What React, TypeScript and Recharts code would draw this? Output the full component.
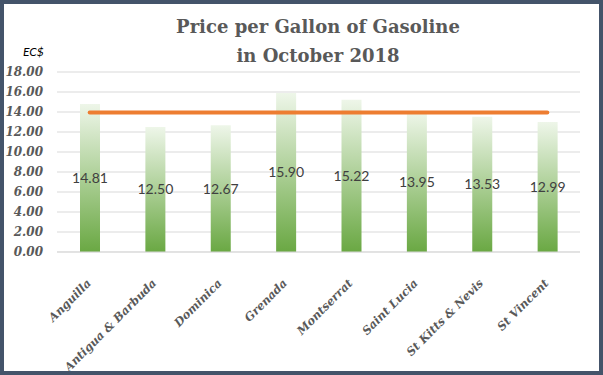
import { Bar, ComposedChart, CartesianGrid, LabelList, Line, XAxis, YAxis } from 'recharts'

const islands = [
  'Anguilla',
  'Antigua & Barbuda',
  'Dominica',
  'Grenada',
  'Montserrat',
  'Saint Lucia',
  'St Kitts & Nevis',
  'St Vincent',
]
const prices = [14.81, 12.5, 12.67, 15.9, 15.22, 13.95, 13.53, 12.99]
const average = [13.95, 13.95, 13.95, 13.95, 13.95, 13.95, 13.95, 13.95]
const yTicks = [0, 2, 4, 6, 8, 10, 12, 14, 16, 18]

const data = islands.map((name, i) => ({ name, price: prices[i], avg: average[i] }))

const serif = '"DejaVu Serif", "Liberation Serif", serif'
const sans = 'Lato, "Open Sans", sans-serif'

function IslandTick(props: { x?: number; y?: number; payload?: { value: string } }) {
  const x = (props.x ?? 0) + 2
  const y = (props.y ?? 0) + 24
  return (
    <text
      x={x}
      y={y}
      transform={`rotate(-45, ${x}, ${y})`}
      textAnchor="end"
      fill="#595959"
      fontFamily={serif}
      fontSize={11.5}
      fontWeight="bold"
      fontStyle="italic"
    >
      {props.payload?.value}
    </text>
  )
}

export default function App() {
  return (
    <div style={{ position: 'absolute', left: 0, top: 0, width: 603, height: 375, background: '#fff' }}>
      <style>{'body{margin:0}'}</style>
      <div
        style={{
          position: 'absolute',
          left: 0,
          top: 12,
          width: 636,
          textAlign: 'center',
          fontFamily: serif,
          fontWeight: 'bold',
          fontSize: 18,
          lineHeight: '29px',
          color: '#595959',
        }}
      >
        Price per Gallon of Gasoline
        <br />
        in October 2018
      </div>
      <div
        style={{
          position: 'absolute',
          left: 23,
          top: 44,
          fontFamily: sans,
          fontStyle: 'italic',
          fontSize: 12,
          color: '#000',
        }}
      >
        EC$
      </div>
      <div style={{ position: 'absolute', left: 0, top: 0 }}>
        <ComposedChart
          width={603}
          height={375}
          data={data}
          margin={{ top: 72, right: 23, left: 0, bottom: 13 }}
        >
          <defs>
            <linearGradient id="barFill" x1="0" y1="0" x2="0" y2="1">
              <stop offset="0%" stopColor="#eef6e9" />
              <stop offset="100%" stopColor="#6aa843" />
            </linearGradient>
          </defs>
          <CartesianGrid vertical={false} stroke="#d9d9d9" />
          <XAxis
            dataKey="name"
            interval={0}
            height={110}
            tickLine={false}
            axisLine={{ stroke: '#d9d9d9' }}
            tick={<IslandTick />}
          />
          <YAxis
            width={57}
            domain={[0, 18]}
            ticks={yTicks}
            interval={0}
            tickFormatter={(v: number) => v.toFixed(2)}
            axisLine={false}
            tickLine={false}
            tickSize={0}
            tickMargin={14}
            tick={{ fill: '#595959', fontFamily: serif, fontSize: 12, fontWeight: 'bold', fontStyle: 'italic' }}
          />
          <Bar dataKey="price" barSize={20} fill="url(#barFill)" isAnimationActive={false}>
            <LabelList
              dataKey="price"
              position="center"
              formatter={(v: number) => v.toFixed(2)}
              fill="#404040"
              fontFamily={sans}
              fontSize={14}
            />
          </Bar>
          <Line
            dataKey="avg"
            stroke="#ed7d31"
            strokeWidth={4}
            strokeLinecap="round"
            dot={false}
            activeDot={false}
            isAnimationActive={false}
          />
        </ComposedChart>
      </div>
      <div
        style={{
          position: 'absolute',
          left: 0,
          top: 0,
          width: 603,
          height: 375,
          boxSizing: 'border-box',
          border: '4px solid #44546a',
          pointerEvents: 'none',
        }}
      />
    </div>
  )
}
